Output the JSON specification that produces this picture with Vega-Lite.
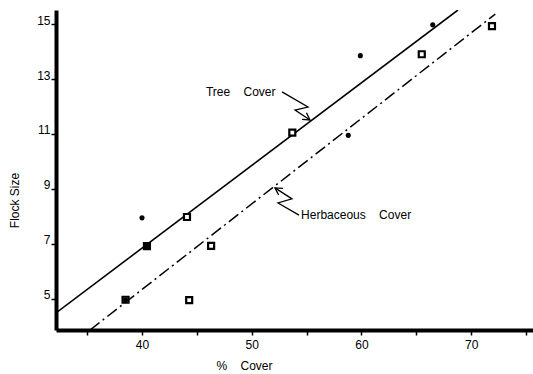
{
  "$schema": "https://vega.github.io/schema/vega-lite/v6.json",
  "width": 477,
  "height": 320,
  "autosize": "none",
  "padding": {"left": 56, "top": 10, "right": 0, "bottom": 44},
  "background": "white",
  "config": {
    "view": {"stroke": null},
    "font": "Liberation Sans",
    "axis": {"grid": false, "domainColor": "black", "tickColor": "black", "labelColor": "black", "titleColor": "black", "labelFont": "Liberation Sans", "titleFont": "Liberation Sans", "titleFontWeight": "normal"}
  },
  "datasets": {
    "points": [
      {"group": "Tree Cover", "x": 38.5, "y": 4.97},
      {"group": "Tree Cover", "x": 40.0, "y": 7.95},
      {"group": "Tree Cover", "x": 40.45, "y": 6.92},
      {"group": "Tree Cover", "x": 58.8, "y": 10.95},
      {"group": "Tree Cover", "x": 59.9, "y": 13.85},
      {"group": "Tree Cover", "x": 66.5, "y": 14.97},
      {"group": "Herbaceous Cover", "x": 38.5, "y": 4.97},
      {"group": "Herbaceous Cover", "x": 40.45, "y": 6.92},
      {"group": "Herbaceous Cover", "x": 44.1, "y": 7.98},
      {"group": "Herbaceous Cover", "x": 44.3, "y": 4.96},
      {"group": "Herbaceous Cover", "x": 46.3, "y": 6.93},
      {"group": "Herbaceous Cover", "x": 53.7, "y": 11.05},
      {"group": "Herbaceous Cover", "x": 65.5, "y": 13.9},
      {"group": "Herbaceous Cover", "x": 71.9, "y": 14.92}
    ],
    "fits": [
      {"line": "Tree Cover", "x": 32.16, "y": 4.49},
      {"line": "Tree Cover", "x": 68.8, "y": 15.51},
      {"line": "Herbaceous Cover", "x": 35.26, "y": 3.87},
      {"line": "Herbaceous Cover", "x": 72.2, "y": 15.36}
    ],
    "arrows": [
      {"arrow": "t", "o": 1, "x": 52.76, "y": 12.53},
      {"arrow": "t", "o": 2, "x": 55.13, "y": 11.98},
      {"arrow": "t", "o": 3, "x": 53.95, "y": 11.87},
      {"arrow": "t", "o": 4, "x": 55.31, "y": 11.51},
      {"arrow": "th", "o": 1, "x": 54.99, "y": 11.77},
      {"arrow": "th", "o": 2, "x": 55.31, "y": 11.51},
      {"arrow": "th", "o": 3, "x": 54.59, "y": 11.53},
      {"arrow": "h", "o": 1, "x": 54.31, "y": 8.05},
      {"arrow": "h", "o": 2, "x": 52.4, "y": 8.49},
      {"arrow": "h", "o": 3, "x": 53.67, "y": 8.64},
      {"arrow": "h", "o": 4, "x": 52.12, "y": 9.04},
      {"arrow": "hh", "o": 1, "x": 52.46, "y": 8.78},
      {"arrow": "hh", "o": 2, "x": 52.12, "y": 9.04},
      {"arrow": "hh", "o": 3, "x": 52.85, "y": 9.02}
    ],
    "labels": [
      {"text": "Tree\u00a0\u00a0\u00a0 Cover", "x": 45.83, "y": 12.53},
      {"text": "Herbaceous\u00a0\u00a0\u00a0 Cover", "x": 54.5, "y": 8.05}
    ]
  },
  "layer": [
    {
      "data": {"name": "fits"},
      "transform": [{"filter": "datum.line == 'Tree Cover'"}],
      "mark": {"type": "line", "color": "black", "strokeWidth": 1.6, "clip": true},
      "encoding": {
        "x": {"field": "x", "type": "quantitative", "scale": {"domain": [32.16, 75.64], "nice": false, "zero": false},
          "axis": {"title": "%\u00a0\u00a0\u00a0 Cover", "values": [35, 40, 45, 50, 55, 60, 65, 70, 75], "labelExpr": "(datum.value % 10 == 0) ? datum.label : ''", "domainWidth": 4, "tickWidth": 1.5, "tickSize": 5, "labelFontSize": 12, "labelPadding": 4, "titleFontSize": 12, "titleX": 188, "titleY": 35, "titleBaseline": "middle", "titleAnchor": "middle"}},
        "y": {"field": "y", "type": "quantitative", "scale": {"domain": [3.87, 15.51], "nice": false, "zero": false},
          "axis": {"title": "Flock Size", "values": [5, 6, 7, 8, 9, 10, 11, 12, 13, 14, 15], "labelExpr": "(datum.value % 2 == 1) ? datum.label : ''", "domainWidth": 4, "tickWidth": 1.5, "tickSize": 5, "labelFontSize": 12, "labelPadding": 1, "labelBaseline": "alphabetic", "titleFontSize": 12, "titleX": -42, "titleY": 190, "titleAngle": -90, "titleAnchor": "middle", "titleBaseline": "middle"}}
      }
    },
    {
      "data": {"name": "fits"},
      "transform": [{"filter": "datum.line == 'Herbaceous Cover'"}],
      "mark": {"type": "line", "color": "black", "strokeWidth": 1.5, "strokeDash": [12, 4, 2, 4], "clip": true},
      "encoding": {
        "x": {"field": "x", "type": "quantitative"},
        "y": {"field": "y", "type": "quantitative"}
      }
    },
    {
      "data": {"name": "arrows"},
      "mark": {"type": "line", "color": "black", "strokeWidth": 1.3},
      "encoding": {
        "x": {"field": "x", "type": "quantitative"},
        "y": {"field": "y", "type": "quantitative"},
        "detail": {"field": "arrow"},
        "order": {"field": "o"}
      }
    },
    {
      "data": {"name": "points"},
      "transform": [{"filter": "datum.group == 'Herbaceous Cover'"}],
      "mark": {"type": "point", "shape": "square", "size": 36, "filled": true, "fill": "white", "stroke": "black", "strokeWidth": 2.2, "opacity": 1},
      "encoding": {
        "x": {"field": "x", "type": "quantitative"},
        "y": {"field": "y", "type": "quantitative"}
      }
    },
    {
      "data": {"name": "points"},
      "transform": [{"filter": "datum.group == 'Tree Cover'"}],
      "mark": {"type": "circle", "size": 26, "color": "black", "opacity": 1},
      "encoding": {
        "x": {"field": "x", "type": "quantitative"},
        "y": {"field": "y", "type": "quantitative"}
      }
    },
    {
      "data": {"name": "labels"},
      "mark": {"type": "text", "align": "left", "baseline": "middle", "fontSize": 12, "color": "black", "font": "Liberation Sans"},
      "encoding": {
        "x": {"field": "x", "type": "quantitative"},
        "y": {"field": "y", "type": "quantitative"},
        "text": {"field": "text"}
      }
    }
  ]
}
